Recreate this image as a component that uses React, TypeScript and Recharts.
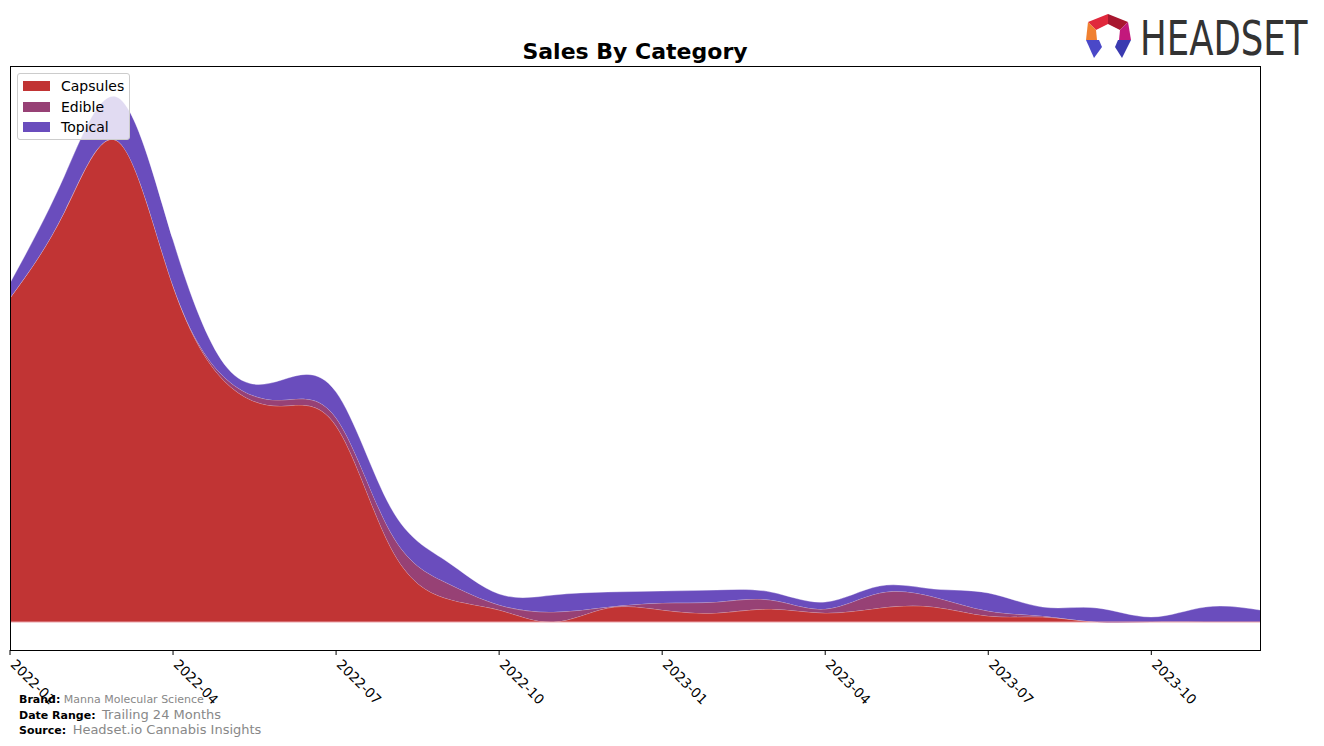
import { AreaChart, Area, XAxis, YAxis, ReferenceLine } from 'recharts';

// monthly sales, arbitrary units
const months = [
    '2022-01', '2022-02', '2022-03', '2022-04', '2022-05', '2022-06',
    '2022-07', '2022-08', '2022-09', '2022-10', '2022-11', '2022-12',
    '2023-01', '2023-02', '2023-03', '2023-04', '2023-05', '2023-06',
    '2023-07', '2023-08', '2023-09', '2023-10', '2023-11', '2023-12',
];
const capsules = [324, 410, 480, 336, 238, 216, 196, 75, 24, 12, 0, 14, 12, 9, 13, 9, 14, 15, 6, 5, 0, 0, 0, 0];
const edible = [0, 0, 0, 0, 4, 6, 8, 15, 16, 5, 10, 1, 7, 11, 9, 4, 15, 10, 5, 1, 0, 0, 0, 0];
const topical = [15, 36, 44, 46, 12, 20, 26, 25, 22, 11, 17, 15, 12, 12, 8, 7, 7, 8, 18, 9, 14, 5, 15, 12];
const tickIdx = [0, 3, 6, 9, 12, 15, 18, 21];

const series = [
    { key: 'Capsules', color: '#c13434' },
    { key: 'Edible', color: '#974175' },
    { key: 'Topical', color: '#6a4dbd' },
];

const data = months.map((m, i) => ({
    i,
    month: m,
    Capsules: capsules[i],
    Edible: edible[i],
    Topical: topical[i],
}));

const FONT = '"DejaVu Sans", sans-serif';

const MonthTick = (props: any) => {
    const { x, y, payload } = props;
    return (
        <g transform={`translate(${x + 3},${y + 5})`}>
            <text x={0} y={0} dy="0.35em" transform="rotate(45)" textAnchor="start"
                fontSize={13.5} fontFamily={FONT} fill="#000">
                {months[payload.value]}
            </text>
        </g>
    );
};

function Logo() {
    return (
        <svg width={254} height={66} style={{ position: 'absolute', left: 1070, top: 0 }}>
            <g transform="translate(-1070,0)">
                <polygon points="1088,22 1108,14 1108,24 1096,30" fill="#e0283c" />
                <polygon points="1108,14 1128,22 1120,30 1108,24" fill="#a8172f" />
                <polygon points="1088,22 1096,30 1097,40 1086,40" fill="#f08030" />
                <polygon points="1128,22 1131,40 1119,40 1120,30" fill="#c2187c" />
                <polygon points="1086,40 1099,40 1102,47 1094,58" fill="#4a48c8" />
                <polygon points="1131,40 1118,40 1115,47 1122,58" fill="#3a3ab0" />
            </g>
            <g transform="translate(70,55) scale(0.74,1)">
                <text x={0} y={0} fontSize={48} fontFamily={FONT} fill="#333">HEADSET</text>
            </g>
        </svg>
    );
}

export default function App() {
    return (
        <div style={{ position: 'absolute', left: 0, top: 0, width: 1324, height: 746, background: '#fff', fontFamily: FONT }}>
            <div style={{ position: 'absolute', left: 0, width: 1270, top: 38, textAlign: 'center', fontSize: 22, fontWeight: 'bold', lineHeight: '28px' }}>
                Sales By Category
            </div>
            <Logo />
            <AreaChart width={1324} height={746} data={data}
                margin={{ top: 66, right: 64, bottom: 66, left: 10 }}>
                <XAxis dataKey="i" type="number" domain={[0, 23]} ticks={tickIdx}
                    height={30} axisLine={false} tickLine={{ stroke: '#000' }} tickSize={5}
                    tick={<MonthTick />} interval={0} />
                <YAxis hide domain={[-28, 556]} allowDataOverflow />
                {series.map((s) => (
                    <Area key={s.key} dataKey={s.key} stackId="1" type="natural"
                        fill={s.color} fillOpacity={1} stroke="#ffffff" strokeOpacity={0.35}
                        strokeWidth={1} isAnimationActive={false} />
                ))}
                <ReferenceLine y={0} stroke="#eaa2a8" strokeWidth={1} />
            </AreaChart>
            <div style={{ position: 'absolute', left: 10, top: 66, width: 1251, height: 585, border: '1px solid #000', boxSizing: 'border-box', pointerEvents: 'none' }} />
            <div style={{ position: 'absolute', left: 17, top: 73, width: 113, height: 67, border: '1px solid #ccc', borderRadius: 3, background: 'rgba(255,255,255,0.8)', boxSizing: 'border-box' }}>
                {series.map((s, k) => (
                    <div key={s.key} style={{ position: 'absolute', left: 5, top: 4 + k * 20.5, height: 16, display: 'flex', alignItems: 'center' }}>
                        <span style={{ display: 'inline-block', width: 27, height: 10, background: s.color }} />
                        <span style={{ marginLeft: 11, fontSize: 14 }}>{s.key}</span>
                    </div>
                ))}
            </div>
            <div style={{ position: 'absolute', left: 19, top: 693, fontSize: 11, lineHeight: '14.5px' }}>
                <div><b>Brand:</b> <span style={{ color: '#888' }}>Manna Molecular Science</span></div>
                <div><b>Date Range:</b> <span style={{ color: '#888', fontSize: 13, marginLeft: 3 }}>Trailing 24 Months</span></div>
                <div><b>Source:</b> <span style={{ color: '#888', fontSize: 13, marginLeft: 3 }}>Headset.io Cannabis Insights</span></div>
            </div>
        </div>
    );
}
